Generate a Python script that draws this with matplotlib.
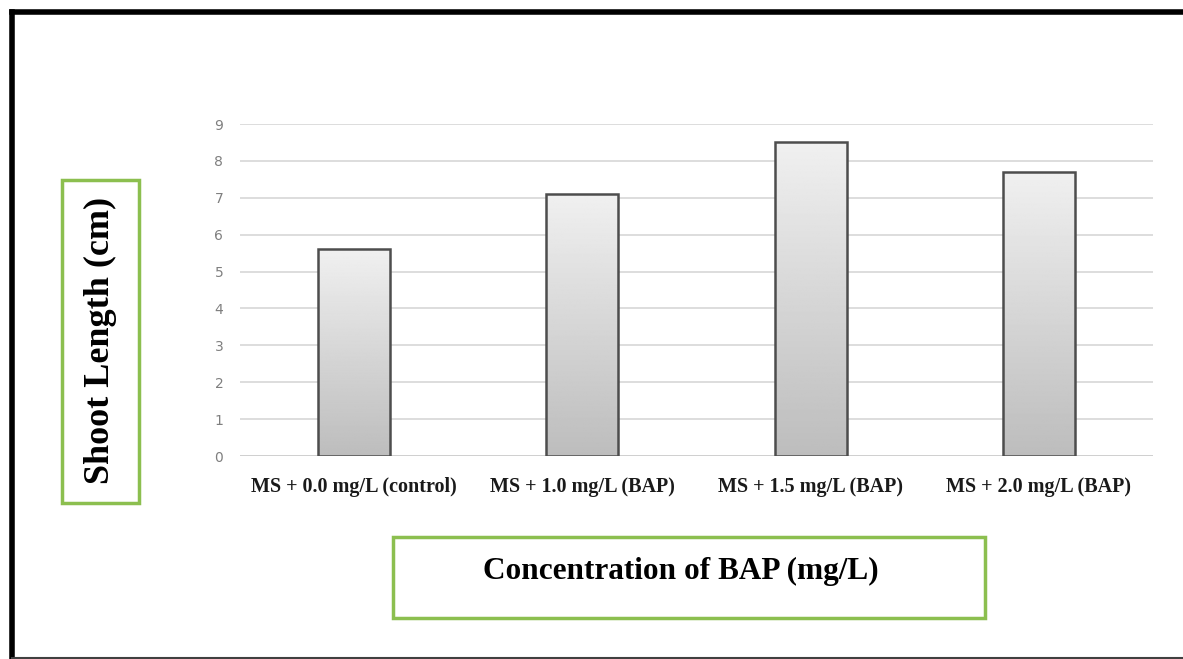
import numpy as np
import matplotlib.pyplot as plt
from matplotlib.patches import Rectangle
from matplotlib.lines import Line2D

# data
categories = ['MS + 0.0 mg/L (control)', 'MS + 1.0 mg/L (BAP)',
              'MS + 1.5 mg/L (BAP)', 'MS + 2.0 mg/L (BAP)']
shoot_length = [5.6, 7.1, 8.5, 7.7]
y_ticks = list(range(0, 10))

W, H = 1183, 659
fig = plt.figure(figsize=(W / 100, H / 100), dpi=100)
fig.patch.set_facecolor('white')

ax = fig.add_axes([240 / W, 1 - 456 / H, (1153 - 240) / W, (456 - 124) / H])

# gridlines
ax.set_yticks(y_ticks)
ax.yaxis.grid(True, color='#dddddd', linewidth=1.4)
ax.set_axisbelow(True)
for s in ax.spines.values():
    s.set_visible(False)
ax.axhline(0, color='#d0d0d0', linewidth=1.4, zorder=1)

# gradient bars
grad = np.linspace(0.74, 0.94, 256).reshape(-1, 1)
bars = ax.bar(range(len(categories)), shoot_length, width=0.315,
              facecolor='none', edgecolor='#4d4d4d', linewidth=1.8, zorder=3)
for b in bars:
    x0, y0 = b.get_x(), b.get_y()
    w, h = b.get_width(), b.get_height()
    im = ax.imshow(grad, cmap='gray', vmin=0, vmax=1, aspect='auto',
                   extent=(x0, x0 + w, y0, y0 + h), origin='lower', zorder=2)
    im.set_clip_path(b)
ax.set_xlim(-0.5, len(categories) - 0.5)
ax.set_ylim(0, 9)

ax.tick_params(axis='y', length=0, pad=12, labelsize=10, labelcolor='#7f7f7f')
ax.set_xticks(range(len(categories)))
ax.set_xticklabels(categories, fontfamily='Liberation Serif', fontweight='bold',
                   fontsize=14.5, color='#1a1a1a')
ax.tick_params(axis='x', length=0, pad=15)

# y label box
fig.patches.append(Rectangle((62 / W, 1 - 503 / H), 77 / W, 323 / H,
                             transform=fig.transFigure, facecolor='white',
                             edgecolor='#8cbf4f', linewidth=2.5))
fig.text(100 / W, 1 - 340 / H, 'Shoot Length (cm)', rotation=90,
         ha='center', va='center', fontfamily='Liberation Serif',
         fontweight='bold', fontsize=26)

# x label box
fig.patches.append(Rectangle((393 / W, 1 - 618 / H), 592 / W, 81 / H,
                             transform=fig.transFigure, facecolor='white',
                             edgecolor='#8cbf4f', linewidth=2.5))
fig.text(681 / W, 1 - 571 / H, 'Concentration of BAP (mg/L)',
         ha='center', va='center', fontfamily='Liberation Serif',
         fontweight='bold', fontsize=22.5)

# outer frame
fig.lines.append(Line2D([12 / W, 12 / W], [1 - 12 / H, 0], transform=fig.transFigure,
                        color='black', linewidth=4))
fig.lines.append(Line2D([12 / W, 1], [1 - 12 / H, 1 - 12 / H], transform=fig.transFigure,
                        color='black', linewidth=4))
fig.lines.append(Line2D([12 / W, 1], [1 - 657.5 / H, 1 - 657.5 / H], transform=fig.transFigure,
                        color='#404040', linewidth=1.5))

fig.savefig('out.png', dpi=100)
